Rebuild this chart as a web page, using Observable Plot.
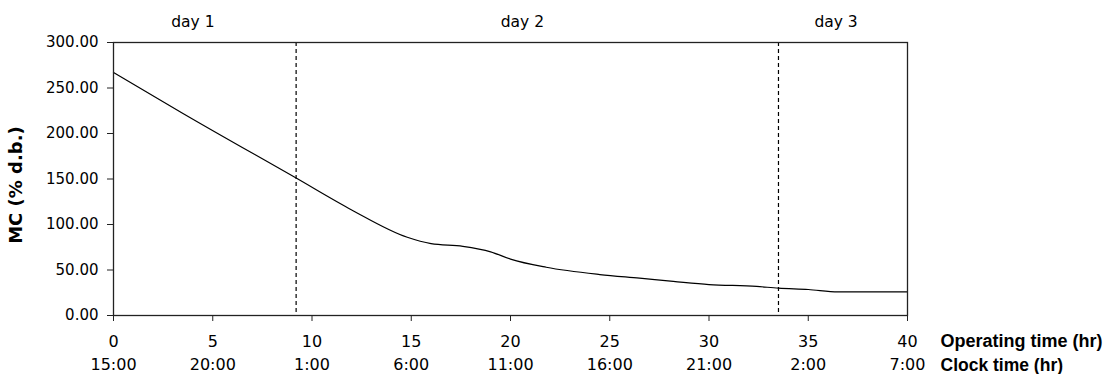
<!DOCTYPE html>
<html>
<head>
<meta charset="utf-8">
<script src="https://cdn.jsdelivr.net/npm/d3@7"></script>
<script src="https://cdn.jsdelivr.net/npm/@observablehq/plot@0.6"></script>
<style>
  html, body { margin: 0; padding: 0; background: #fff; }
  #chart svg { display: block; }
</style>
</head>
<body>
<div id="chart"></div>
<script>
// Operating time (hr) and moisture content (% d.b.)
const hours = [0, 3.5, 9.2, 12, 14.8, 16, 17.6, 19, 20, 21.8, 24.5, 26.5, 28.2, 30, 32.4, 33.5, 35, 36.5, 40];
const mc    = [267, 222, 151, 116, 86, 79, 76, 70, 62, 53, 45, 41, 37.5, 34, 32, 30, 28.6, 26, 26];

// Axis ticks and labels
const opTicks = [0, 5, 10, 15, 20, 25, 30, 35, 40];
const clockLabels = ["15:00", "20:00", "1:00", "6:00", "11:00", "16:00", "21:00", "2:00", "7:00"];
const yTicks = [0, 50, 100, 150, 200, 250, 300];

// Day boundaries and day labels
const dayBoundaries = [9.2, 33.5];
const dayLabelPos = [4, 20.6, 36.4];
const dayLabelText = ["day 1", "day 2", "day 3"];

const series = hours.map((h, i) => ({h, v: mc[i]}));
const days = dayLabelPos.map((x, i) => ({x, t: dayLabelText[i]}));
const clockMap = new Map(opTicks.map((t, i) => [t, clockLabels[i]]));

const chart = Plot.plot({
  width: 1113,
  height: 374,
  marginLeft: 113,
  marginRight: 206,
  marginTop: 42,
  marginBottom: 59,
  style: {fontFamily: "DejaVu Sans", fontSize: "15px", color: "#000", background: "#fff", overflow: "visible"},
  x: {domain: [0, 40]},
  y: {domain: [0, 300]},
  marks: [
    Plot.ruleX(dayBoundaries, {stroke: "#000", strokeWidth: 1.2, strokeDasharray: "4,3"}),
    Plot.line(series, {x: "h", y: "v", stroke: "#000", strokeWidth: 1.2, curve: "monotone-x"}),
    Plot.frame({stroke: "#222", strokeWidth: 1.3}),
    Plot.axisY({ticks: yTicks, tickSize: 6, tickPadding: 9, tickFormat: d3.format(".2f"), label: null, fontSize: 15, stroke: "#222"}),
    Plot.axisX({ticks: opTicks, tickSize: 6, tickPadding: 14, tickFormat: d => String(d), label: null, fontSize: 16, stroke: "#222"}),
    Plot.axisX({ticks: opTicks, tickSize: 0, tickPadding: 43, tickFormat: d => clockMap.get(d), label: null, fontSize: 16}),
    Plot.text(["Operating time (hr)"], {x: 40, y: 0, text: d => d, dx: 33, dy: 26, textAnchor: "start", fontWeight: "bold", fontSize: 18, fontFamily: "Liberation Sans"}),
    Plot.text(["Clock time (hr)"], {x: 40, y: 0, text: d => d, dx: 33, dy: 50, textAnchor: "start", fontWeight: "bold", fontSize: 17.5, fontFamily: "Liberation Sans"}),
    Plot.text(["MC (% d.b.)"], {frameAnchor: "left", text: d => d, rotate: -90, textAnchor: "middle", dx: -97, dy: 6, fontWeight: "bold", fontSize: 18, fontFamily: "DejaVu Sans"}),
    Plot.text(days, {x: "x", y: 300, text: "t", dy: -20, fontSize: 15.5})
  ]
});
document.getElementById("chart").appendChild(chart);
</script>
</body>
</html>
